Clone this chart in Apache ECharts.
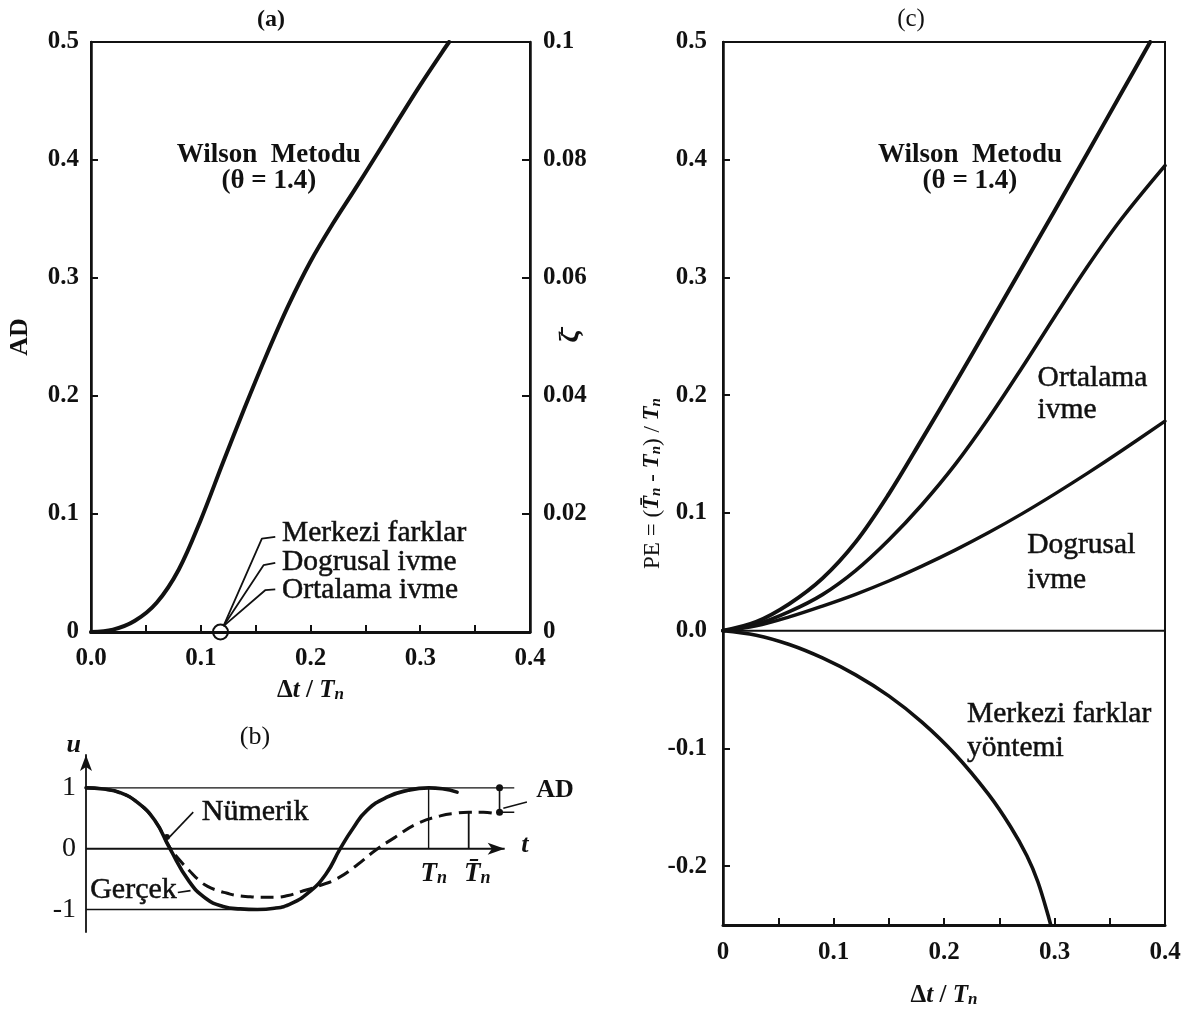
<!DOCTYPE html>
<html>
<head>
<meta charset="utf-8">
<title>Wilson metodu: genlik azalması ve periyot uzaması</title>
<script src="https://cdn.jsdelivr.net/npm/echarts/dist/echarts.min.js"></script>
<style>
  html, body { margin: 0; padding: 0; background: #fff; }
  #chart { width: 1187px; height: 1014px; }
</style>
</head>
<body>
<div id="chart"></div>
<script>
// ---------------- data ----------------
// (a) amplitude decay AD of Wilson's method (θ = 1.4) against Δt/Tn
const adStep   = [0, 0.02, 0.04, 0.06, 0.08, 0.10, 0.12, 0.14, 0.16, 0.18, 0.20, 0.22, 0.24, 0.26, 0.28, 0.30, 0.32, 0.3263];
const adWilson = [0, 0.002, 0.0095, 0.025, 0.053, 0.095, 0.143, 0.190, 0.235, 0.277, 0.314, 0.3455, 0.3745, 0.404, 0.434, 0.4635, 0.4915, 0.500];
// central difference, linear and average acceleration: no amplitude decay
const adNoDecayStep  = [0.118];
const adNoDecayValue = [0];

// (c) period elongation PE = (T̄n - Tn) / Tn
const peStepW    = [0, 0.03, 0.06, 0.09, 0.12, 0.15, 0.18, 0.21, 0.24, 0.27, 0.30, 0.33, 0.36, 0.3866];
const peWilson   = [0, 0.0075, 0.0228, 0.0444, 0.0752, 0.1160, 0.1625, 0.2100, 0.2585, 0.3075, 0.3565, 0.406, 0.4558, 0.500];
const peStep     = [0, 0.03, 0.06, 0.09, 0.12, 0.15, 0.18, 0.21, 0.24, 0.27, 0.30, 0.33, 0.36, 0.40];
const peAverage  = [0, 0.0053, 0.0161, 0.0306, 0.0510, 0.0770, 0.1070, 0.1410, 0.1800, 0.2225, 0.2665, 0.3095, 0.349, 0.395];
const peLinear   = [0, 0.0041, 0.0117, 0.0209, 0.0309, 0.0422, 0.0548, 0.0684, 0.0831, 0.099, 0.116, 0.1338, 0.1524, 0.178];
const peStepCD   = [0, 0.03, 0.06, 0.09, 0.12, 0.15, 0.18, 0.21, 0.24, 0.26, 0.275, 0.285, 0.2955, 0.298];
const peCentral  = [0, -0.0038, -0.0117, -0.0231, -0.0375, -0.0554, -0.0776, -0.1049, -0.1386, -0.1661, -0.1912, -0.2135, -0.2461, -0.2554];

// (b) free vibration u(t), time in units of Tn
const exactT = [0, 0.05, 0.10, 0.15, 0.20, 0.245, 0.30, 0.35, 0.40, 0.45, 0.50, 0.55, 0.60, 0.65, 0.70, 0.742, 0.78, 0.82, 0.88, 0.94, 1.0, 1.04, 1.083];
const exactU = [1, 0.98, 0.92, 0.76, 0.47, 0, -0.53, -0.82, -0.95, -0.99, -1.0, -0.98, -0.90, -0.72, -0.42, 0, 0.34, 0.63, 0.85, 0.96, 1.0, 0.985, 0.93];
const numT   = [0, 0.05, 0.10, 0.15, 0.20, 0.245, 0.275, 0.30, 0.33, 0.355, 0.385, 0.41, 0.44, 0.48, 0.51, 0.55, 0.59, 0.625, 0.68, 0.734, 0.793, 0.844, 0.903, 0.966, 1.034, 1.08, 1.117, 1.16, 1.20];
const numU   = [1, 0.98, 0.92, 0.76, 0.47, 0.02, -0.20, -0.35, -0.52, -0.62, -0.69, -0.73, -0.77, -0.79, -0.80, -0.80, -0.77, -0.71, -0.61, -0.49, -0.26, -0.03, 0.19, 0.41, 0.54, 0.585, 0.60, 0.60, 0.57];
const periods   = [1.0, 1.117];   // Tn, T̄n
const numPeak   = 0.60;           // numerical amplitude after one period

// tick labels
const aStepTicks = ['0.0', '0.1', '0.2', '0.3', '0.4'];
const aADTicks   = ['0', '0.1', '0.2', '0.3', '0.4', '0.5'];
const aZetaTicks = ['0', '0.02', '0.04', '0.06', '0.08', '0.1'];
const cStepTicks = ['0', '0.1', '0.2', '0.3', '0.4'];
const cPETicks   = ['-0.2', '-0.1', '0.0', '0.1', '0.2', '0.3', '0.4', '0.5'];
const bUTicks    = ['-1', '0', '1'];
const stepMinor  = [0, 0.05, 0.1, 0.15, 0.2, 0.25, 0.3, 0.35, 0.4];

// ---------------- helpers ----------------
const FONT = "'Liberation Serif','Times New Roman','DejaVu Serif',serif";
const INK = '#111111';

const zip = (xs, ys) => xs.map((x, i) => [x, ys[i]]);

function tickLabels(labels, extra) {
  const vals = labels.map(Number);
  return Object.assign({
    customValues: vals,
    formatter: v => labels[vals.findIndex(n => Math.abs(n - v) < 1e-9)],
    fontFamily: FONT, fontWeight: 'bold', fontSize: 25, color: INK
  }, extra || {});
}

function curve(axes, xs, ys, width, extra) {
  return Object.assign({
    type: 'line', xAxisIndex: axes[0], yAxisIndex: axes[1],
    data: zip(xs, ys), smooth: 0.35, showSymbol: false, silent: true,
    lineStyle: { color: INK, width: width, cap: 'round', join: 'round' }, z: 3
  }, extra || {});
}

function guide(axes, pts, width, extra) {
  return Object.assign({
    type: 'line', xAxisIndex: axes[0], yAxisIndex: axes[1],
    data: pts, showSymbol: false, silent: true, clip: false,
    lineStyle: { color: INK, width: width }, itemStyle: { color: INK, opacity: 1 }, z: 2
  }, extra || {});
}

function note(axes, x, y, text, label) {
  return {
    type: 'scatter', xAxisIndex: axes[0], yAxisIndex: axes[1],
    data: [[x, y]], symbolSize: 0, silent: true, clip: false, z: 6,
    itemStyle: { opacity: 1 },
    label: Object.assign({
      show: true, position: 'right', distance: 0, formatter: text, opacity: 1,
      fontFamily: FONT, fontSize: 29.5, color: INK,
      textBorderColor: INK, textBorderWidth: 0.5
    }, label || {})
  };
}

const subRich = (size, weight) => ({
  r: { fontFamily: FONT, fontSize: size, fontWeight: weight, color: INK },
  d: { fontFamily: FONT, fontSize: size, fontWeight: 'bold', color: INK },
  i: { fontFamily: FONT, fontSize: size, fontWeight: 'bold', fontStyle: 'italic', color: INK },
  s: { fontFamily: FONT, fontSize: Math.round(size * 0.66), fontWeight: 'bold', fontStyle: 'italic',
       color: INK, verticalAlign: 'bottom', lineHeight: Math.round(size * 0.66) }
});

const stepName = '{d|Δ}{i|t}{d| / }{i|T}{s|n}';
const peName = '{r|PE = (}{i|T\u0304}{s|n}{r| - }{i|T}{s|n}{r|) / }{i|T}{s|n}';

const A = [0, 0], C = [1, 2], B = [2, 3];
const BOLD_NOTE = { position: 'inside', fontWeight: 'bold', fontSize: 27, textBorderWidth: 0 };
const tArrowEnd = 1.222;   // centre of the arrow head on the t axis

// ---------------- chart ----------------
const chart = echarts.init(document.getElementById('chart'), null, { renderer: 'canvas' });

const option = {
  backgroundColor: '#ffffff',
  animation: false,
  grid: [
    { left: 91, top: 42, width: 439, height: 590, show: true, borderColor: INK, borderWidth: 2, backgroundColor: 'transparent' },
    { left: 723, top: 42, width: 442, height: 883, show: true, borderColor: INK, borderWidth: 2, backgroundColor: 'transparent' },
    { left: 86, top: 755, width: 445.4, height: 177, show: false }
  ],
  xAxis: [
    {
      gridIndex: 0, type: 'value', min: 0, max: 0.4,
      axisLine: { show: true, onZero: false, lineStyle: { color: INK, width: 3 } },
      axisTick: { show: true, inside: true, length: 7, customValues: stepMinor, lineStyle: { color: INK, width: 2 } },
      axisLabel: tickLabels(aStepTicks, { margin: 14 }),
      splitLine: { show: false },
      name: stepName, nameLocation: 'middle', nameGap: 46, nameMoveOverlap: false,
      nameTextStyle: { rich: subRich(25, 'bold') }
    },
    {
      gridIndex: 1, type: 'value', min: 0, max: 0.4,
      axisLine: { show: true, onZero: false, lineStyle: { color: INK, width: 3 } },
      axisTick: { show: true, inside: true, length: 7, customValues: stepMinor, lineStyle: { color: INK, width: 2 } },
      axisLabel: tickLabels(cStepTicks, { margin: 15 }),
      splitLine: { show: false },
      name: stepName, nameLocation: 'middle', nameGap: 58, nameMoveOverlap: false,
      nameTextStyle: { rich: subRich(25, 'bold') }
    },
    {
      gridIndex: 2, type: 'value', min: 0, max: 1.30,
      axisLine: { show: false }, axisTick: { show: false }, axisLabel: { show: false }, splitLine: { show: false }
    }
  ],
  yAxis: [
    {
      gridIndex: 0, type: 'value', min: 0, max: 0.5, position: 'left',
      axisLine: { show: true, lineStyle: { color: INK, width: 2.5 } },
      axisTick: { show: true, inside: true, length: 7, customValues: aADTicks.map(Number), lineStyle: { color: INK, width: 2 } },
      axisLabel: tickLabels(aADTicks, { margin: 12 }),
      splitLine: { show: false },
      name: 'AD', nameLocation: 'middle', nameGap: 58, nameMoveOverlap: false,
      nameTextStyle: { fontFamily: FONT, fontSize: 26, fontWeight: 'bold', color: INK }
    },
    {
      gridIndex: 0, type: 'value', min: 0, max: 0.1, position: 'right',
      axisLine: { show: true, lineStyle: { color: INK, width: 2.5 } },
      axisTick: { show: true, inside: true, length: 8, customValues: aZetaTicks.map(Number), lineStyle: { color: INK, width: 2 } },
      axisLabel: tickLabels(aZetaTicks, { margin: 13 }),
      splitLine: { show: false },
      name: 'ζ\u0304', nameLocation: 'middle', nameGap: 27, nameRotate: 90, nameMoveOverlap: false,
      nameTextStyle: { fontFamily: FONT, fontSize: 28, fontWeight: 'bold', color: INK }
    },
    {
      gridIndex: 1, type: 'value', min: -0.25, max: 0.5,
      axisLine: { show: true, onZero: false, lineStyle: { color: INK, width: 2.5 } },
      axisTick: { show: true, inside: true, length: 7, customValues: cPETicks.map(Number), lineStyle: { color: INK, width: 2 } },
      axisLabel: tickLabels(cPETicks, { margin: 16 }),
      splitLine: { show: false },
      name: peName, nameLocation: 'middle', nameGap: 59, nameMoveOverlap: false,
      nameTextStyle: { rich: subRich(23, 'normal') }
    },
    {
      gridIndex: 2, type: 'value', min: -1.37, max: 1.54,
      axisLine: { show: true, onZero: false, symbol: ['none', 'arrow'], symbolSize: [9, 16], lineStyle: { color: INK, width: 1.8 } },
      axisTick: { show: false }, splitLine: { show: false },
      axisLabel: tickLabels(bUTicks, { margin: 10, fontWeight: 'normal', fontSize: 28 }),
      name: 'u', nameLocation: 'end', nameGap: 10, nameMoveOverlap: false,
      nameTextStyle: { fontFamily: FONT, fontSize: 26, fontWeight: 'bold', fontStyle: 'italic', color: INK,
                       align: 'right', verticalAlign: 'middle', padding: [0, 5, 0, 0] }
    }
  ],
  graphic: [
    { type: 'text', x: 271, y: 20, style: { text: '(a)', font: `bold 24px ${FONT}`, fill: INK, align: 'center', verticalAlign: 'middle' } },
    { type: 'text', x: 255, y: 737, style: { text: '(b)', font: `26px ${FONT}`, fill: INK, align: 'center', verticalAlign: 'middle' } },
    { type: 'text', x: 911, y: 19, style: { text: '(c)', font: `25px ${FONT}`, fill: INK, align: 'center', verticalAlign: 'middle' } }
  ],
  series: [
    // ---- (a) amplitude decay
    curve(A, adStep, adWilson, 4),
    {
      type: 'scatter', xAxisIndex: 0, yAxisIndex: 0, silent: true, clip: false, z: 5,
      data: zip(adNoDecayStep, adNoDecayValue), symbol: 'circle', symbolSize: 15,
      itemStyle: { color: 'rgba(0,0,0,0)', borderColor: INK, borderWidth: 2, opacity: 1 }
    },
    guide(A, [[0.1207, 0.005], [0.1557, 0.0792], [0.1679, 0.0806]], 1.8),
    guide(A, [[0.1207, 0.005], [0.1572, 0.0566], [0.1679, 0.0585]], 1.8),
    guide(A, [[0.1207, 0.005], [0.1587, 0.0354], [0.1679, 0.0362]], 1.8),
    note(A, 0.174, 0.0835, 'Merkezi farklar'),
    note(A, 0.174, 0.0594, 'Dogrusal ivme'),
    note(A, 0.174, 0.0354, 'Ortalama ivme'),
    note(A, 0.162, 0.404, 'Wilson  Metodu', BOLD_NOTE),
    note(A, 0.162, 0.382, '(θ = 1.4)', BOLD_NOTE),

    // ---- (c) period elongation
    guide(C, [[0, 0], [0.4, 0]], 2),
    curve(C, peStepW, peWilson, 4),
    curve(C, peStep, peAverage, 3.6),
    curve(C, peStep, peLinear, 3.4),
    curve(C, peStepCD, peCentral, 3.6),
    note(C, 0.2235, 0.404, 'Wilson  Metodu', BOLD_NOTE),
    note(C, 0.2235, 0.382, '(θ = 1.4)', BOLD_NOTE),
    note(C, 0.2847, 0.2144, 'Ortalama'),
    note(C, 0.2847, 0.1873, 'ivme'),
    note(C, 0.2753, 0.0726, 'Dogrusal'),
    note(C, 0.2753, 0.0428, 'ivme'),
    note(C, 0.2208, -0.071, 'Merkezi farklar'),
    note(C, 0.2208, -0.0999, 'yöntemi'),

    // ---- (b) free vibration sketch
    // time axis with arrow head
    guide(B, [[0, 0], { value: [tArrowEnd, 0], symbol: 'arrow', symbolSize: [9, 17], symbolRotate: -90 }], 2,
          { showSymbol: true, symbol: 'none', z: 3 }),
    note(B, 1.281, 0.05, 't', { position: 'inside', fontWeight: 'bold', fontStyle: 'italic', fontSize: 26, textBorderWidth: 0 }),
    guide(B, [[0, 1], [1.25, 1]], 1.4),
    guide(B, [[0, -1], [0.5, -1]], 1.4),
    guide(B, [[periods[0], 0], [periods[0], 1]], 1.4),
    guide(B, [[periods[1], 0], [periods[1], numPeak]], 1.8),
    guide(B, [[1.207, numPeak], [1.25, numPeak]], 1.4),
    guide(B, [[1.207, numPeak], [1.207, 1]], 1.6,
          { showSymbol: true, symbol: 'circle', symbolSize: 7 }),
    curve(B, numT, numU, 3, { lineStyle: { color: INK, width: 3, type: [13, 7] }, z: 2, clip: false, smooth: 0.5 }),
    curve(B, exactT, exactU, 3.6, { z: 4, clip: false, smooth: 0.5 }),
    guide(B, [[0.24, 0.17], [0.313, 0.60]], 1.6),
    {
      type: 'scatter', xAxisIndex: 2, yAxisIndex: 3, silent: true, clip: false, z: 6,
      data: [[0.236, 0.19]], symbol: 'circle', symbolSize: 6, itemStyle: { color: INK, opacity: 1 }
    },
    guide(B, [[0.268, -0.72], [0.305, -0.69]], 1.6),
    guide(B, [[1.218, 0.665], [1.287, 0.766]], 1.5),
    note(B, 0.338, 0.60, 'Nümerik', { fontSize: 30 }),
    note(B, 0.265, -0.686, 'Gerçek', { position: 'left', fontSize: 30 }),
    note(B, 1.314, 0.959, 'AD', { fontWeight: 'bold', fontSize: 26, textBorderWidth: 0 }),
    note(B, 1.015, -0.41, '{i|T}{s|n}', { position: 'inside', rich: subRich(27, 'bold'), textBorderWidth: 0 }),
    note(B, 1.142, -0.41, '{i|T\u0304}{s|n}', { position: 'inside', rich: subRich(27, 'bold'), textBorderWidth: 0 })
  ]
};

chart.setOption(option);
</script>
</body>
</html>
